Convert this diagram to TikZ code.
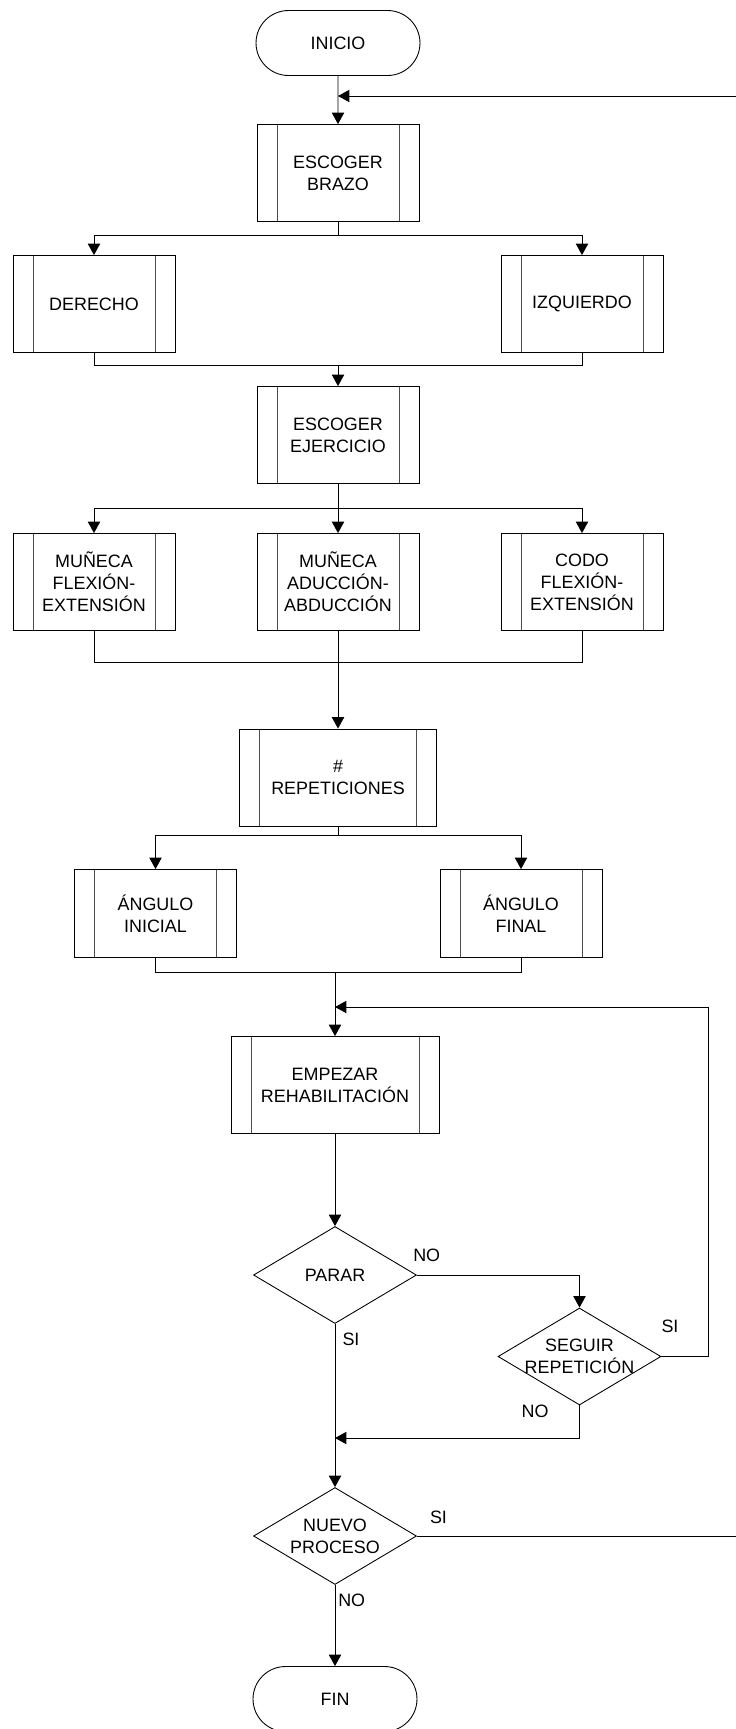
\documentclass[tikz,border=0pt]{standalone}
\usepackage{fontspec}
\setmainfont{Liberation Sans}
\usetikzlibrary{shapes.geometric,shapes.misc,arrows.meta}
\tikzset{
  proceso/.style={draw, rectangle, align=center, inner sep=0pt,
    minimum width=3.24cm, minimum height=1.94cm,
    path picture={
      \draw[black!70] ([xshift=0.4cm]path picture bounding box.north west) -- ([xshift=0.4cm]path picture bounding box.south west);
      \draw[black!70] ([xshift=-0.4cm]path picture bounding box.north east) -- ([xshift=-0.4cm]path picture bounding box.south east);}},
  terminal/.style={draw, rounded rectangle, minimum width=3.28cm, minimum height=1.3cm, inner sep=0pt},
  decision/.style={draw, diamond, minimum width=3.26cm, minimum height=1.94cm, inner sep=0pt},
  dtexto/.style={align=center},
  flecha/.style={-{Triangle[length=6.5pt,width=7pt]}}
}
\begin{document}
\begin{tikzpicture}[x=0.02cm, y=-0.02cm, line width=0.5pt,
  every node/.style={font=\fontsize{10.2}{12.5}\selectfont}]
  \useasboundingbox (0,0) rectangle (735,1729);
  \node[terminal] (inicio) at (338,43) {INICIO};
  \node[proceso] (brazo) at (338,173) {ESCOGER\\BRAZO};
  \node[proceso] (derecho) at (94,304) {DERECHO};
  \node[proceso] (izquierdo) at (582,304) {IZQUIERDO};
  \node[proceso] (ejercicio) at (338,435) {ESCOGER\\EJERCICIO};
  \node[proceso] (munfe) at (94,582) {MUÑECA\\FLEXIÓN-\\EXTENSIÓN};
  \node[proceso] (munaa) at (338,582) {MUÑECA\\ADUCCIÓN-\\ABDUCCIÓN};
  \node[proceso] (codo) at (582,582) {CODO\\FLEXIÓN-\\EXTENSIÓN};
  \node[proceso, minimum width=3.94cm] (repet) at (338,777.5) {\#\\REPETICIONES};
  \node[proceso, minimum height=1.76cm] (inicial) at (155.5,913.5) {ÁNGULO\\INICIAL};
  \node[proceso, minimum height=1.76cm] (final) at (521,913.5) {ÁNGULO\\FINAL};
  \node[proceso, minimum width=4.16cm] (empezar) at (335,1085) {EMPEZAR\\REHABILITACIÓN};
  \node[decision, label={[dtexto]center:PARAR}] (parar) at (335,1275) {};
  \node[decision, label={[dtexto]center:{SEGUIR\\REPETICIÓN}}] (seguir) at (579.5,1356.5) {};
  \node[decision, label={[dtexto]center:{NUEVO\\PROCESO}}] (nuevo) at (335,1536) {};
  \node[terminal] (fin) at (335,1699) {FIN};

  \coordinate (entrada) at (338,96);
  \coordinate (m1) at (338,365);
  \coordinate (m2) at (338,662);
  \coordinate (m3) at (335,972.5);
  \coordinate (retorno) at (335,1007);
  \coordinate (unir) at (335,1438);

  \draw[flecha] (inicio) -- (brazo);
  \draw[flecha] (nuevo.east) -- (760,1536) -- (760,96) -- (entrada);
  \draw[flecha] (brazo.south) -- ++(0,13) -| (derecho.north);
  \draw[flecha] (brazo.south) -- ++(0,13) -| (izquierdo.north);
  \draw (derecho.south) |- (m1) -| (izquierdo.south);
  \draw[flecha] (m1) -- (ejercicio.north);
  \draw[flecha] (ejercicio.south) -- ++(0,24) -| (munfe.north);
  \draw[flecha] (ejercicio.south) -- (munaa.north);
  \draw[flecha] (ejercicio.south) -- ++(0,24) -| (codo.north);
  \draw (munfe.south) |- (m2) -| (codo.south);
  \draw[flecha] (munaa.south) -- (repet.north);
  \draw[flecha] (repet.south) -- ++(0,9) -| (inicial.north);
  \draw[flecha] (repet.south) -- ++(0,9) -| (final.north);
  \draw (inicial.south) |- (m3) -| (final.south);
  \draw[flecha] (m3) -- (empezar.north);
  \draw[flecha] (empezar) -- (parar);
  \draw[flecha] (parar.east) -| (seguir.north);
  \draw[flecha] (seguir.east) -- (708,1356.5) |- (retorno);
  \draw[flecha] (seguir.south) |- (unir);
  \draw[flecha] (parar.south) -- (nuevo.north);
  \draw[flecha] (nuevo.south) -- (fin.north);

  \node (no1) at (426.7,1255) {NO};
  \node (si1) at (351,1339.5) {SI};
  \node (si2) at (670,1326.7) {SI};
  \node (no2) at (535,1411.7) {NO};
  \node (si3) at (438.5,1517) {SI};
  \node (no3) at (351.7,1600) {NO};
\end{tikzpicture}
\end{document}
